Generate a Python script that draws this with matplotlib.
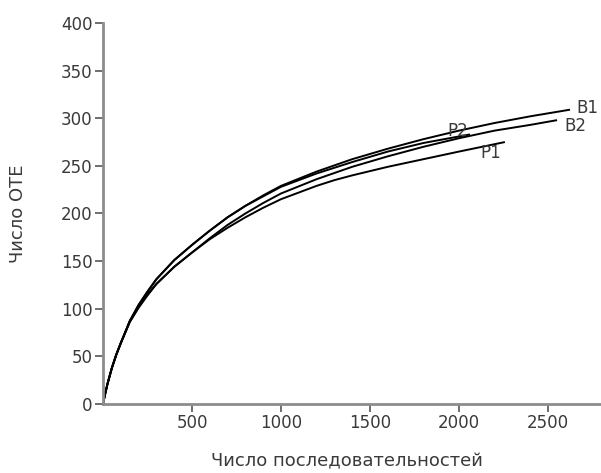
import matplotlib
matplotlib.use("Agg")
import matplotlib.pyplot as plt

plt.rcParams['font.family'] = ['DejaVu Sans']

# Rarefaction curves
b1_x = [0, 10, 25, 50, 75, 100, 150, 200, 250, 300, 400, 500, 600, 700, 800, 900, 1000,
        1200, 1400, 1600, 1800, 2000, 2200, 2400, 2624]
b1_y = [0, 9, 21, 38, 52, 64, 87, 104, 118, 131, 151, 167, 182, 196, 208, 219, 229,
        244, 257, 268, 278, 287, 295, 302, 309]

b2_x = [0, 10, 25, 50, 75, 100, 150, 200, 250, 300, 400, 500, 600, 700, 800, 900, 1000,
        1200, 1400, 1600, 1800, 2000, 2200, 2400, 2551]
b2_y = [0, 9, 21, 38, 52, 64, 86, 102, 115, 126, 144, 159, 174, 188, 200, 211, 221,
        236, 249, 260, 270, 279, 287, 293, 298]

p2_x = [0, 10, 25, 50, 75, 100, 150, 200, 250, 300, 400, 500, 600, 700, 800, 900, 1000,
        1200, 1400, 1600, 1800, 2062]
p2_y = [0, 9, 21, 38, 52, 64, 87, 104, 118, 131, 151, 167, 182, 196, 208, 218, 228,
        242, 254, 265, 274, 283]

p1_x = [0, 10, 25, 50, 75, 100, 150, 200, 250, 300, 400, 500, 600, 700, 800, 900, 1000,
        1100, 1200, 1300, 1400, 1600, 1800, 2000, 2258]
p1_y = [0, 9, 21, 38, 52, 64, 86, 101, 114, 126, 144, 159, 173, 185, 196, 206, 215,
        222, 229, 235, 240, 249, 257, 265, 275]

labels = ['B1', 'B2', 'P2', 'P1']
label_x = [2657, 2590, 1933, 2118]
label_y = [311, 292, 287, 264]

x_ticks = [500, 1000, 1500, 2000, 2500]
y_ticks = [0, 50, 100, 150, 200, 250, 300, 350, 400]

fig = plt.figure(figsize=(6.01, 4.73), dpi=100)
ax = fig.add_axes([0.1714, 0.1459, 0.8286, 0.8055])

for xs, ys in [(b1_x, b1_y), (b2_x, b2_y), (p2_x, p2_y), (p1_x, p1_y)]:
    ax.plot(xs, ys, color='black', lw=1.4, solid_capstyle='butt')

for lab, lx, ly in zip(labels, label_x, label_y):
    ax.text(lx, ly, lab, fontsize=12, color='#3a3a3a', va='center', ha='left')

ax.set_xlim(0, 2798)
ax.set_ylim(0, 400)
ax.set_xticks(x_ticks)
ax.set_yticks(y_ticks)

for side in ['top', 'right']:
    ax.spines[side].set_visible(False)
for side in ['left', 'bottom']:
    ax.spines[side].set_color('#8c8c8c')
    ax.spines[side].set_linewidth(2)
ax.tick_params(colors='#555555', labelcolor='#3a3a3a', length=5.5, width=1.2,
               labelsize=12, pad=2)

ax.set_xlabel('Число последовательностей', fontsize=13, color='#3a3a3a')
ax.set_ylabel('Число ОТЕ', fontsize=13, color='#3a3a3a')
ax.xaxis.set_label_coords(0.49, -0.126)
ax.yaxis.set_label_coords(-0.153, 0.5)

fig.savefig('out.png', dpi=100)
